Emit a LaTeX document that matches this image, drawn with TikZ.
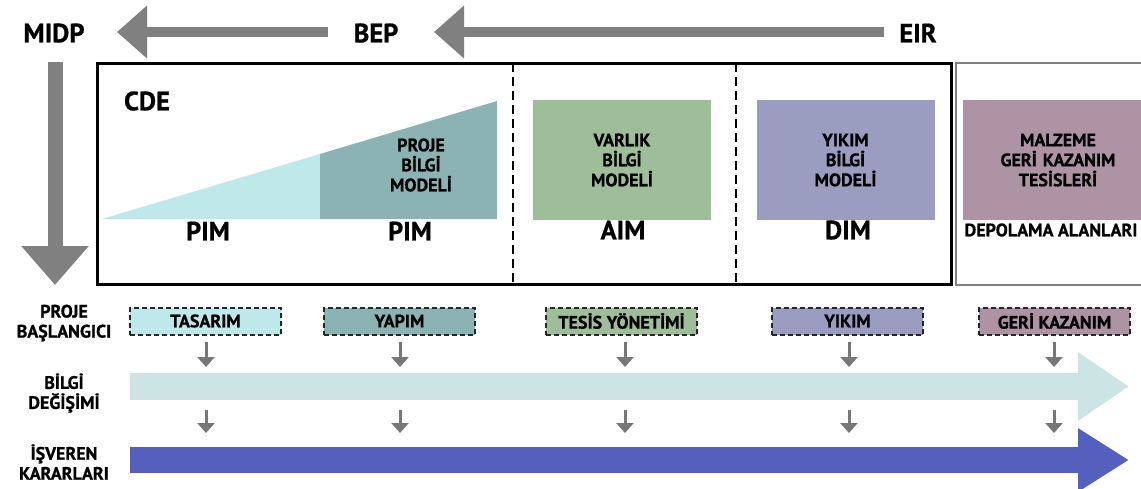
\documentclass[tikz,border=0pt]{standalone}
\usepackage{fontspec}
\setmainfont{PT Sans}[BoldFeatures={FakeBold=0.8}]
\usetikzlibrary{arrows.meta}

\definecolor{flowgray}{HTML}{808080}
\definecolor{tickgray}{HTML}{777777}
\definecolor{framegray}{HTML}{7F7F7F}
\definecolor{designcyan}{HTML}{BFE8EB}
\definecolor{buildteal}{HTML}{8BB3B3}
\definecolor{assetgreen}{HTML}{9DBE99}
\definecolor{demolpurple}{HTML}{9A9DC0}
\definecolor{recovmauve}{HTML}{AE93A5}
\definecolor{exchband}{HTML}{CCE4E4}
\definecolor{decisionblue}{HTML}{545FBE}

\begin{document}
\begin{tikzpicture}[x=1pt,y=-1pt,
  smalltext/.style={font=\bfseries\fontsize{18}{20}\selectfont, align=center, inner sep=0pt},
  bigtext/.style={font=\bfseries\fontsize{26.5}{30}\selectfont, inner sep=0pt},
  modelbox/.style={smalltext, minimum width=178pt, minimum height=120pt},
  stagebox/.style={smalltext, draw=black!85, line width=2pt, dash pattern=on 5pt off 3pt,
                   minimum width=151pt, minimum height=27pt},
  flowarrow/.style={flowgray, line width=10pt, -{Triangle[length=30pt,width=51pt]}},
  tickarrow/.style={tickgray, line width=3pt, -{Triangle[length=10pt,width=17pt]}},
  bandarrow/.style={line width=27pt, -{Triangle[length=51pt,width=65pt]}}
]
\useasboundingbox (0,0) rectangle (1141,488);
\clip (0,0) rectangle (1141,488);

% --- delivery chain along the top ---
\node[bigtext] (midp) at (54,33) {MIDP};
\node[bigtext] (bep)  at (376,33) {BEP};
\node[bigtext] (eir)  at (918,33) {EIR};
\coordinate (eirtail) at (884,32);
\coordinate (beptip)  at (434,32);
\coordinate (beptail) at (328,32);
\coordinate (midptip) at (117,32);
\draw[flowarrow] (eirtail) -- (beptip);
\draw[flowarrow] (beptail) -- (midptip);

% --- downward arrow below MIDP ---
\coordinate (vtop) at (55,62);
\coordinate (vtip) at (55,285);
\draw[flowgray, line width=15pt, -{Triangle[length=39pt,width=65pt]}] (vtop) -- (vtip);

% --- common data environment frame ---
\draw[line width=3pt] (97,63) rectangle (951,284);
\draw[line width=2.8pt, dash pattern=on 9pt off 5pt] (513,63) -- (513,284);
\draw[line width=2.8pt, dash pattern=on 9pt off 5pt] (736,63) -- (736,284);
\draw[framegray, line width=2.5pt] (956,63) rectangle (1160,285);

\node[bigtext] (cde) at (147,101) {CDE};

% growing project information model
\fill[designcyan] (102,219) -- (320,154) -- (320,219) -- cycle;
\fill[buildteal] (320,154) -- (497,101) -- (497,219) -- (320,219) -- cycle;
\node[smalltext] (pimtext) at (421,165) {PROJE\\BİLGİ\\MODELİ};
\node[bigtext] (pim1) at (208,231) {PIM};
\node[bigtext] (pim2) at (410,231) {PIM};

% asset, demolition and recovery models
\node[modelbox, fill=assetgreen] (aimbox) at (622,160) {VARLIK\\BİLGİ\\MODELİ};
\node[modelbox, fill=demolpurple] (dimbox) at (845.5,160) {YIKIM\\BİLGİ\\MODELİ};
\node[smalltext, fill=recovmauve, minimum width=190pt, minimum height=120pt, text width=178pt]
  (recbox) at (1058,160) {MALZEME\\GERİ KAZANIM\\TESİSLERİ};
\node[bigtext] (aim) at (623,230) {AIM};
\node[bigtext] (dim) at (848,230) {DIM};
\node[smalltext] (depo) at (1051,230) {DEPOLAMA ALANLARI};

% --- row labels ---
\node[smalltext] (start) at (64,323) {PROJE\\BAŞLANGICI};
\node[smalltext] (exch)  at (64,393) {BİLGİ\\DEĞİŞİMİ};
\node[smalltext] (emp)   at (64,462) {İŞVEREN\\KARARLARI};

% --- life-cycle stages ---
\node[stagebox, fill=designcyan]  (tasarim) at (205.5,321) {TASARIM};
\node[stagebox, fill=buildteal]   (yapim)   at (399.5,321) {YAPIM};
\node[stagebox, fill=assetgreen]  (tesis)   at (621.5,321) {TESİS YÖNETİMİ};
\node[stagebox, fill=demolpurple] (yikim)   at (847.5,321) {YIKIM};
\node[stagebox, fill=recovmauve]  (geri)    at (1054.5,321) {GERİ KAZANIM};

% --- information exchange and employer decision bands ---
\coordinate (exchstart) at (130,386.5);
\coordinate (exchend)   at (1129,386.5);
\draw[bandarrow, exchband] (exchstart) -- (exchend);
\coordinate (decstart) at (130,460);
\coordinate (decend)   at (1129,460);
\draw[decisionblue, line width=26pt, -{Triangle[length=51pt,width=60pt]}] (decstart) -- (decend);

% --- stage-to-band ticks ---
\foreach \s/\x in {tasarim/206, yapim/400, tesis/625, yikim/849, geri/1054}{
  \coordinate (\s-a) at (\x,342);
  \coordinate (\s-b) at (\x,367);
  \coordinate (\s-c) at (\x,410);
  \coordinate (\s-d) at (\x,433);
  \draw[tickarrow] (\s-a) -- (\s-b);
  \draw[tickarrow] (\s-c) -- (\s-d);
}
\end{tikzpicture}
\end{document}
